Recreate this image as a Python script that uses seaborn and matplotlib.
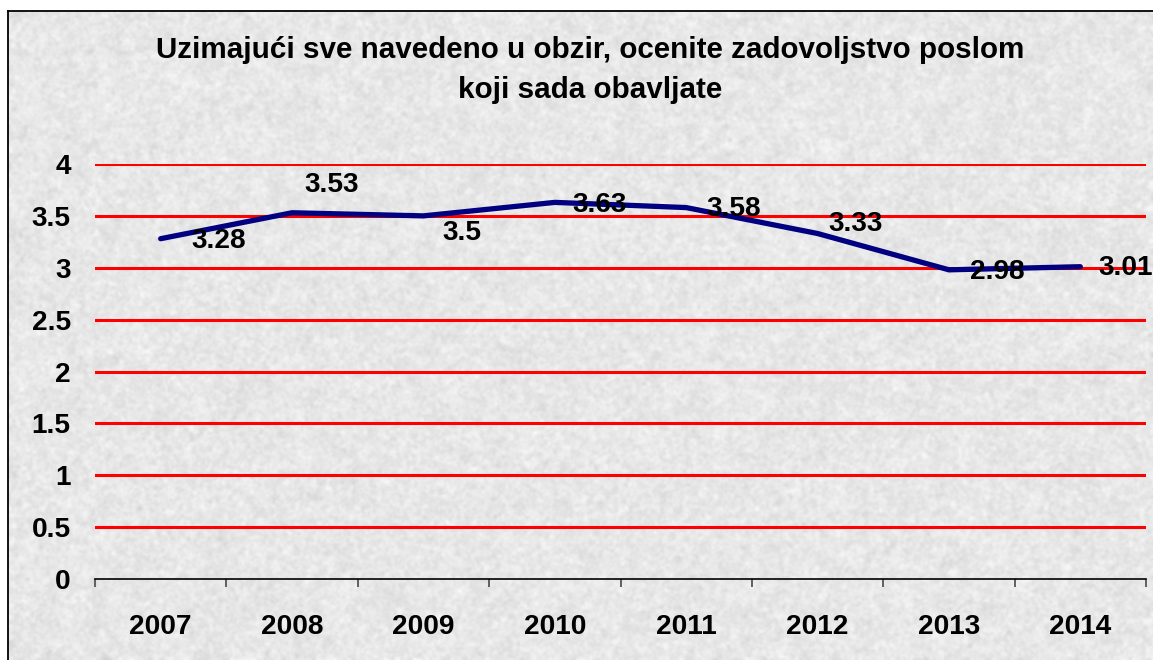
import numpy as np
import pandas as pd
import matplotlib
matplotlib.use("Agg")
import matplotlib.pyplot as plt
import seaborn as sns

# Survey averages per year
years = ["2007", "2008", "2009", "2010", "2011", "2012", "2013", "2014"]
scores = [3.28, 3.53, 3.5, 3.63, 3.58, 3.33, 2.98, 3.01]
y_ticks = [0, 0.5, 1, 1.5, 2, 2.5, 3, 3.5, 4]
y_tick_labels = ["0", "0.5", "1", "1.5", "2", "2.5", "3", "3.5", "4"]
title = "Uzimajući sve navedeno u obzir, ocenite zadovoljstvo poslom\nkoji sada obavljate"

# label offsets (pixels) relative to each point
label_dx = [58, 40, 38, 45, 48, 38, 48, 45]
label_dy = [-2, 28, -17, -3, -1, 10, -2, -1]

W, H, DPI = 1153, 660, 100
FONT = "Liberation Sans"
FS = 20.2
TITLE_FS = 21.3

sns.set_style("white")
plt.rcParams["font.family"] = [FONT, "DejaVu Sans"]
plt.rcParams["font.weight"] = "bold"
plt.rcParams["text.color"] = "black"
plt.rcParams["xtick.color"] = "black"
plt.rcParams["ytick.color"] = "black"

fig = plt.figure(figsize=(W / DPI, H / DPI), dpi=DPI, facecolor="white")


def box_blur(a, r):
    # separable box blur with edge padding
    k = 2 * r + 1
    p = np.pad(a, r, mode="edge")
    c = np.cumsum(p, axis=0)
    c = np.vstack([np.zeros((1, c.shape[1])), c])
    a = (c[k:] - c[:-k]) / k
    c = np.cumsum(a, axis=1)
    c = np.hstack([np.zeros((c.shape[0], 1)), c])
    return (c[:, k:] - c[:, :-k]) / k


# granite-like paper texture for the chart area
rng = np.random.default_rng(3)
th, tw = H - 11, W - 8
fine = box_blur(box_blur(rng.normal(size=(th, tw)), 1), 1)
mid = box_blur(box_blur(rng.normal(size=(th, tw)), 2), 2)
coarse = box_blur(box_blur(rng.normal(size=(th, tw)), 6), 6)
tex = 0.905 + fine * 0.045 + mid * 0.08 + coarse * 0.10
tex = np.clip(tex, 0.81, 0.99)

bg = fig.add_axes([8 / W, 0, 1 - 8 / W, 1 - 11 / H], zorder=0)
bg.imshow(tex, cmap="gray", vmin=0, vmax=1, aspect="auto", interpolation="bilinear")
bg.set_xticks([])
bg.set_yticks([])
for side in ("right", "bottom"):
    bg.spines[side].set_visible(False)
for side in ("left", "top"):
    bg.spines[side].set_color("black")
    bg.spines[side].set_linewidth(1.3)

ax = fig.add_axes([95 / W, 1 - 579 / H, (1146 - 95) / W, (579 - 164) / H], zorder=2)
ax.patch.set_alpha(0)

df = pd.DataFrame({"pos": np.arange(len(years)), "score": scores})

# horizontal reference lines
for v in y_ticks[1:]:
    ax.axhline(v, color="#ff0000", lw=2.2, zorder=1)

sns.lineplot(data=df, x="pos", y="score", ax=ax, color="#000080", lw=3.8,
             zorder=3, legend=False)

for i, s in enumerate(scores):
    ax.annotate(f"{s:g}", (i, s), xytext=(label_dx[i], label_dy[i]),
                textcoords="offset pixels", ha="center", va="center",
                fontsize=FS, fontweight="bold", color="black", zorder=4)

ax.set_xlim(-0.5, len(years) - 0.5)
ax.set_ylim(0, 4)
ax.set_xticks(np.arange(len(years)))
ax.set_xticklabels(years)
ax.set_xticks(np.arange(len(years) + 1) - 0.5, minor=True)
ax.set_yticks(y_ticks)
ax.set_yticklabels(y_tick_labels)
ax.tick_params(axis="x", which="major", bottom=True, length=0, pad=25,
               labelsize=FS, labelcolor="black")
ax.tick_params(axis="x", which="minor", bottom=True, length=6, width=1.3,
               color="#555555", direction="out")
ax.tick_params(axis="y", left=True, length=0, pad=17.5, labelsize=FS,
               labelcolor="black")
for t in ax.get_xticklabels() + ax.get_yticklabels():
    t.set_fontweight("bold")

for side in ("left", "right", "top"):
    ax.spines[side].set_visible(False)
ax.spines["bottom"].set_color("black")
ax.spines["bottom"].set_linewidth(1.2)
ax.spines["bottom"].set_zorder(5)
ax.set_xlabel("")
ax.set_ylabel("")

fig.text(590 / W, 1 - 70 / H, title, ha="center", va="center", color="black",
         fontsize=TITLE_FS, fontweight="bold", linespacing=1.55, zorder=5)

fig.savefig("out.png", dpi=DPI, facecolor="white")
